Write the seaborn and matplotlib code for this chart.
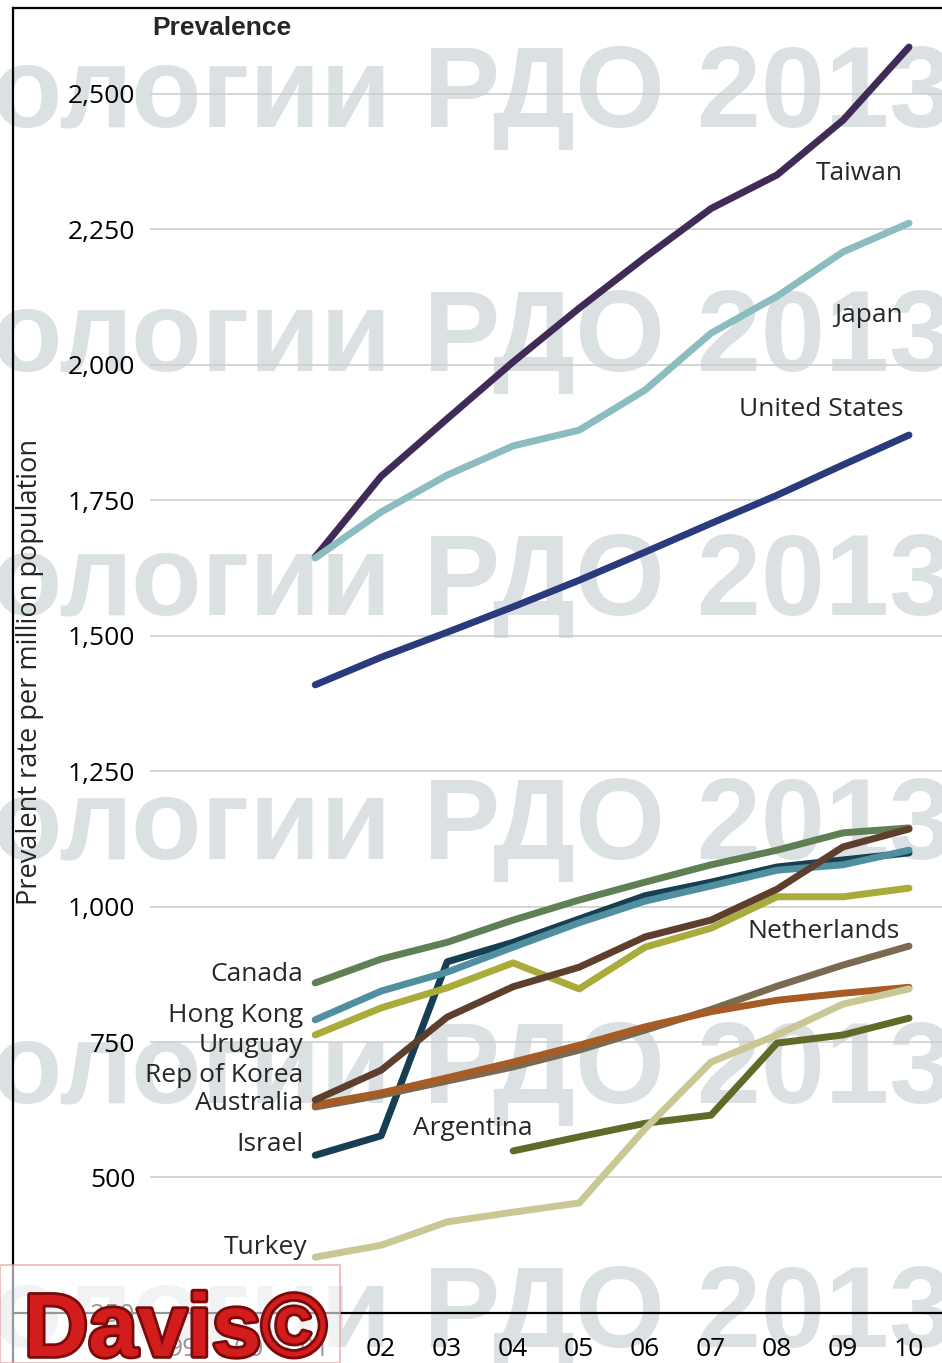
import matplotlib
matplotlib.use("Agg")
import matplotlib.pyplot as plt
import matplotlib.patches as patches
import matplotlib.patheffects as pe
import numpy as np
import pandas as pd
import seaborn as sns

# Data (prevalent rate per million population)
years = [2001, 2002, 2003, 2004, 2005, 2006, 2007, 2008, 2009, 2010]

taiwan = [1645, 1794, 1900, 2005, 2104, 2198, 2288, 2350, 2451, 2586]
japan = [1643, 1728, 1796, 1850, 1879, 1953, 2058, 2126, 2208, 2261]
united_states = [1409, 1460, 1506, 1553, 1602, 1654, 1707, 1759, 1815, 1870]
canada = [859, 903, 934, 975, 1012, 1045, 1077, 1104, 1136, 1145]
israel = [541, 577, 898, 934, 977, 1020, 1045, 1073, 1086, 1099]
hong_kong = [791, 844, 879, 925, 970, 1010, 1038, 1067, 1077, 1104]
uruguay = [763, 813, 850, 896, 848, 925, 960, 1018, 1018, 1034]
netherlands = [630, 652, 678, 704, 735, 772, 810, 853, 892, 927]
australia = [634, 656, 684, 713, 744, 778, 806, 827, 840, 851]
korea = [643, 698, 796, 852, 888, 944, 975, 1032, 1110, 1143]
argentina = [None, None, None, 549, 575, 600, 615, 748, 763, 794]
turkey = [353, 375, 418, 436, 453, 590, 713, 763, 820, 848]

series = {
    "Taiwan": taiwan,
    "Japan": japan,
    "United States": united_states,
    "Canada": canada,
    "Israel": israel,
    "Hong Kong": hong_kong,
    "Uruguay": uruguay,
    "Netherlands": netherlands,
    "Australia": australia,
    "Rep of Korea": korea,
    "Argentina": argentina,
    "Turkey": turkey,
}

colors = {
    "Taiwan": "#402a57",
    "Japan": "#8bbcbf",
    "United States": "#2a3a7c",
    "Canada": "#5f7f55",
    "Israel": "#163f52",
    "Hong Kong": "#4f8fa0",
    "Uruguay": "#a9ab3a",
    "Netherlands": "#7b6a52",
    "Australia": "#a65c24",
    "Rep of Korea": "#5e3e2c",
    "Argentina": "#626a2a",
    "Turkey": "#c9c894",
}

y_ticks = [250, 500, 750, 1000, 1250, 1500, 1750, 2000, 2250, 2500]
x_ticks = list(range(1999, 2011))
x_labels = [str(y)[-2:] for y in x_ticks]

rows = []
for name, vals in series.items():
    for yr, v in zip(years, vals):
        if v is not None:
            rows.append({"year": yr, "rate": v, "country": name})
df = pd.DataFrame(rows)

sns.set_style("white")
plt.rcParams["font.family"] = ["Open Sans", "DejaVu Sans"]
plt.rcParams["axes.axisbelow"] = False

fig = plt.figure(figsize=(9.42, 13.63), dpi=100)
ax = fig.add_axes([13 / 942, 0, 929 / 942, 1355 / 1363])

sns.lineplot(
    data=df, x="year", y="rate", hue="country", hue_order=list(series.keys()),
    palette=colors, linewidth=5, legend=False, ax=ax, zorder=3,
    solid_capstyle="round", solid_joinstyle="round",
)

ax.set_xlim(1996.42, 2010.5)
ax.set_ylim(157.7, 2658)

# light gridlines starting right of the tick labels
ax.hlines(y_ticks[1:], 1998.5, 2010.5, color="#cdcdcd", linewidth=1.2, zorder=1.2)

# watermark rows
for base in [127, 371, 615, 859, 1103, 1347]:
    ax.text(-8 / 942, 1 - base / 1363, "ологии РДО 2013", transform=fig.transFigure,
            fontsize=83, fontweight="bold", family=["Liberation Sans", "DejaVu Sans"],
            color="#d3dadc", alpha=0.8, va="baseline", ha="left", zorder=1,
            clip_on=False)

for s in ["top", "left", "bottom"]:
    ax.spines[s].set_color("black")
    ax.spines[s].set_linewidth(1.6)
ax.spines["right"].set_visible(False)
ax.spines["bottom"].set_position(("data", 250))

ax.set_yticks(y_ticks)
ax.set_yticklabels([f"{v:,}" for v in y_ticks])
ax.tick_params(axis="y", length=0, pad=-88, labelsize=19, labelcolor="black")
ax.set_xticks(x_ticks)
ax.set_xticklabels(x_labels)
ax.tick_params(axis="x", direction="in", length=12, width=1, color="#9a9a9a",
               pad=17, labelsize=19, labelcolor="black")

ax.set_xlabel("")
ax.set_ylabel("")
fig.text(30 / 942, 1 - 672 / 1363, "Prevalent rate per million population",
         rotation=90, fontsize=19.5, va="center", ha="center")
fig.text(152 / 942, 1 - 28 / 1363, "Prevalence", fontsize=19, fontweight="bold",
         family=["Liberation Sans", "DejaVu Sans"], va="center", ha="left")

# series labels
labels_right = [
    ("Taiwan", 2009.91, 2353), ("Japan", 2009.91, 2091),
    ("United States", 2009.91, 1918), ("Netherlands", 2009.86, 953),
]
labels_left = [
    ("Canada", 874), ("Hong Kong", 798), ("Uruguay", 744),
    ("Rep of Korea", 689), ("Australia", 637), ("Israel", 560),
]
for name, x, y in labels_right:
    ax.text(x, y, name, fontsize=19, ha="right", va="center", zorder=4)
for name, y in labels_left:
    ax.text(2000.82, y, name, fontsize=19, ha="right", va="center", zorder=4)
ax.text(2002.48, 591, "Argentina", fontsize=19, ha="left", va="center", zorder=4)
ax.text(2000.88, 370, "Turkey", fontsize=19, ha="right", va="center", zorder=4)

# logo box bottom-left
box = patches.Rectangle((0, 0), 340 / 942, 98 / 1363, transform=fig.transFigure,
                        facecolor="white", alpha=0.6, edgecolor="#e59a9a",
                        linewidth=1.5, zorder=5)
fig.add_artist(box)
fig.text(24 / 942, 7 / 1363, "Davis©", fontsize=64, fontweight="bold",
         family=["Liberation Sans", "DejaVu Sans"], color="#d31c1c",
         va="baseline", ha="left", zorder=6,
         path_effects=[pe.withStroke(linewidth=4, foreground="#7a0a0a")])

fig.savefig("out.png", dpi=100)
plt.close(fig)
